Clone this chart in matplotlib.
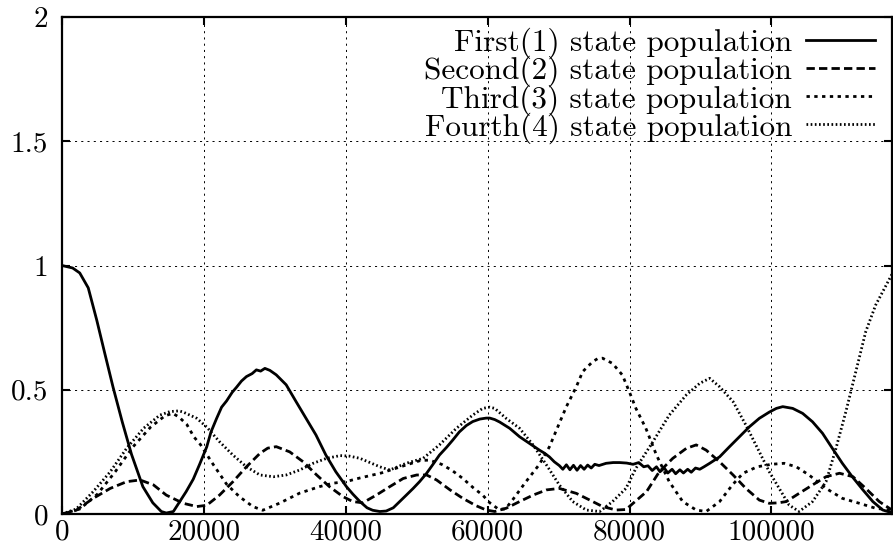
import matplotlib
matplotlib.use("Agg")
import matplotlib.pyplot as plt
from matplotlib.ticker import FuncFormatter

plt.rcParams['font.family'] = 'cmr10'
plt.rcParams['mathtext.fontset'] = 'cm'
plt.rcParams['axes.formatter.use_mathtext'] = True
plt.rcParams['lines.scale_dashes'] = False

# === data ===
x_first = [0, 1500, 2500, 3700, 4900, 6000, 7200, 8500, 9800, 11400, 12800, 14000, 14700, 15700,
           16600, 17500, 18500, 19400, 20400, 21000, 21800, 22500, 23200, 24000, 24600, 25300,
           26000, 26800, 27400, 28000, 28600, 29300, 30200, 31600, 33000, 34400, 35800, 37200,
           38600, 40100, 41000, 42000, 43000, 43800, 44800, 45700, 46700, 47600, 48500, 49500,
           50400, 51400, 52300, 53200, 54200, 55100, 56000, 57000, 57900, 58900, 59800, 60300,
           61000, 61700, 63100, 64500, 65900, 67300, 68000, 68700, 69400, 70100, 70600, 71100,
           71600, 72100, 72600, 73100, 73600, 74100, 74600, 75100, 75700, 76700, 77700, 78600,
           79600, 80500, 81300, 82000, 82600, 83200, 83800, 84300, 84900, 85400, 86000, 86500,
           87100, 87600, 88200, 88700, 89300, 89900, 90500, 91300, 92700, 94100, 95500, 96900,
           98300, 99700, 100700, 101600, 103000, 104400, 105800, 107200, 108600, 110000, 111400,
           112900, 114300, 115700, 117000]
first = [1.0, 0.99, 0.97, 0.91, 0.78, 0.65, 0.51, 0.37, 0.24, 0.11, 0.045, 0.01, 0.004, 0.01,
         0.05, 0.09, 0.14, 0.2, 0.27, 0.33, 0.385, 0.43, 0.455, 0.49, 0.51, 0.535,
         0.553, 0.565, 0.58, 0.575, 0.586, 0.578, 0.56, 0.52, 0.452, 0.385, 0.318, 0.237,
         0.17, 0.11, 0.08, 0.05, 0.025, 0.015, 0.01, 0.012, 0.025, 0.05, 0.075, 0.103,
         0.13, 0.164, 0.2, 0.237, 0.268, 0.298, 0.33, 0.356, 0.372, 0.382, 0.386, 0.386,
         0.38, 0.37, 0.345, 0.311, 0.284, 0.257, 0.245, 0.23, 0.21, 0.195, 0.18, 0.198,
         0.178, 0.196, 0.176, 0.195, 0.18, 0.197, 0.185, 0.2, 0.195, 0.204, 0.207, 0.207,
         0.205, 0.2, 0.207, 0.19, 0.194, 0.175, 0.19, 0.17, 0.185, 0.165, 0.18, 0.162,
         0.178, 0.165, 0.18, 0.168, 0.185, 0.18, 0.19, 0.204, 0.23, 0.271, 0.311, 0.351,
         0.385, 0.41, 0.425, 0.432, 0.425, 0.405, 0.371, 0.325, 0.264, 0.204, 0.15,
         0.097, 0.05, 0.016, 0.005]

x_second = [0, 2000, 4400, 6800, 9100, 11000, 12900, 14700, 17100, 19000, 20400, 22200, 24100,
            26000, 27900, 29000, 30200, 32100, 34000, 35900, 37700, 39600, 41000, 42400, 44300,
            46200, 48100, 50000, 51400, 52800, 54700, 56500, 58400, 59800, 61000, 62600, 64500,
            66400, 68300, 70100, 72500, 74400, 76200, 78100, 79500, 80500, 82400, 84200, 86100,
            88000, 89400, 90800, 92700, 94600, 96400, 98300, 99700, 101000, 102100, 103900,
            105800, 107700, 109600, 111500, 113300, 115200, 117000]
second = [0, 0.015, 0.063, 0.103, 0.13, 0.137, 0.117, 0.076, 0.043, 0.03, 0.035, 0.076, 0.13,
          0.19, 0.244, 0.265, 0.271, 0.25, 0.21, 0.157, 0.11, 0.07, 0.05, 0.045, 0.076,
          0.11, 0.143, 0.157, 0.157, 0.137, 0.097, 0.063, 0.033, 0.016, 0.01, 0.023, 0.05,
          0.076, 0.097, 0.103, 0.083, 0.056, 0.03, 0.016, 0.018, 0.043, 0.09, 0.17, 0.224,
          0.264, 0.278, 0.257, 0.21, 0.157, 0.103, 0.056, 0.043, 0.045, 0.05, 0.083,
          0.117, 0.15, 0.164, 0.15, 0.103, 0.05, 0.016]

x_third = [0, 2500, 5000, 7500, 10000, 12500, 14500, 15600, 16500, 17600, 18600, 19500, 21300,
           23200, 25000, 26900, 28300, 30700, 33500, 36300, 38200, 40000, 42000, 45000, 48500,
           50500, 51800, 53500, 55000, 56500, 58000, 59300, 60300, 61500, 62500, 63600, 65400,
           67300, 68700, 69700, 71100, 72500, 73400, 74800, 75500, 76200, 77600, 79000, 80000,
           80900, 82300, 83800, 85600, 87500, 89400, 90800, 92700, 94500, 96000, 98000, 100000,
           101800, 103500, 105300, 107700, 110000, 112400, 114700, 117000]
third = [0, 0.02, 0.08, 0.17, 0.27, 0.35, 0.395, 0.405, 0.39, 0.36, 0.31, 0.28, 0.2,
         0.12, 0.07, 0.03, 0.015, 0.044, 0.084, 0.11, 0.124, 0.13, 0.145, 0.165, 0.197,
         0.215, 0.217, 0.2, 0.175, 0.143, 0.105, 0.076, 0.045, 0.02, 0.02, 0.06, 0.13,
         0.2, 0.27, 0.338, 0.432, 0.512, 0.573, 0.613, 0.625, 0.627, 0.606, 0.559, 0.49,
         0.425, 0.345, 0.237, 0.13, 0.05, 0.016, 0.01, 0.05, 0.117, 0.164, 0.19, 0.2,
         0.204, 0.19, 0.157, 0.103, 0.063, 0.043, 0.023, 0.015]

x_fourth = [0, 2000, 4400, 6800, 9100, 11500, 13800, 15200, 16500, 17100, 19000, 20400, 22200,
            24100, 26000, 27900, 29800, 31600, 33500, 35400, 37300, 39200, 40500, 42000, 44800,
            46200, 48500, 50900, 53200, 55600, 57900, 59300, 60300, 61000, 62600, 64500, 66400,
            68300, 70100, 72000, 73900, 75800, 77600, 79500, 80900, 83300, 85600, 88000, 89900,
            91300, 92700, 94600, 96400, 98300, 99700, 101100, 102500, 103900, 105800, 107700,
            109100, 110500, 111900, 113300, 114700, 116200, 117000]
fourth = [0, 0.02, 0.09, 0.17, 0.264, 0.345, 0.398, 0.412, 0.415, 0.41, 0.385, 0.35, 0.291,
          0.237, 0.19, 0.157, 0.15, 0.157, 0.177, 0.204, 0.224, 0.235, 0.233, 0.224, 0.19,
          0.177, 0.204, 0.224, 0.278, 0.345, 0.398, 0.425, 0.43, 0.425, 0.385, 0.345, 0.278,
          0.197, 0.117, 0.05, 0.016, 0.01, 0.05, 0.103, 0.184, 0.291, 0.398, 0.479, 0.526,
          0.546, 0.512, 0.452, 0.358, 0.25, 0.17, 0.103, 0.036, 0.01, 0.05, 0.13,
          0.264, 0.412, 0.573, 0.734, 0.841, 0.922, 0.965]

labels = ["First(1) state population", "Second(2) state population",
          "Third(3) state population", "Fourth(4) state population"]
x_ticks = [0, 20000, 40000, 60000, 80000, 100000]
y_ticks = [0, 0.5, 1, 1.5, 2]

# === figure ===
fig = plt.figure(figsize=(8.93, 5.58), dpi=100)
ax = fig.add_axes([62 / 893, 44 / 558, 830 / 893, 497 / 558])

lw = 2.0
ax.plot(x_first, first, color='black', lw=lw, label=labels[0])
ax.plot(x_second, second, color='black', lw=lw, linestyle=(0, (6, 3)), label=labels[1])
ax.plot(x_third, third, color='black', lw=lw, linestyle=(0, (2.4, 3.2)), label=labels[2])
ax.plot(x_fourth, fourth, color='black', lw=lw, linestyle=(0, (1.2, 1.8)), label=labels[3])

ax.set_xlim(0, 117000)
ax.set_ylim(0, 2)
ax.set_xticks(x_ticks)
ax.set_yticks(y_ticks)
ax.xaxis.set_major_formatter(FuncFormatter(lambda v, p: f"{int(v)}"))
ax.yaxis.set_major_formatter(FuncFormatter(lambda v, p: f"{v:g}"))
ax.tick_params(direction='in', length=6, width=1.5, top=True, right=True, labelsize=21)
ax.tick_params(axis='x', pad=4)
ax.tick_params(axis='y', pad=10)
ax.grid(True, color='black', lw=0.7, linestyle=(0, (1.5, 3)))
for s in ax.spines.values():
    s.set_linewidth(1.6)

ax.legend(loc='upper right', bbox_to_anchor=(813 / 830, 0.978), frameon=False,
          markerfirst=False, fontsize=22.5, handlelength=2.2, handletextpad=0.45,
          labelspacing=-0.11, borderaxespad=0, borderpad=0)

fig.savefig("out.png", dpi=100)
